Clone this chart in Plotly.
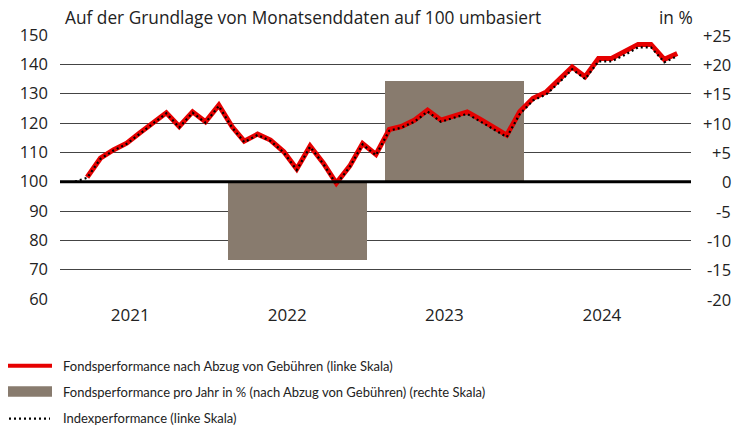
import plotly.graph_objects as go
import pandas as pd

# ---------------- data ----------------
months = pd.date_range("2021-01-31", periods=47, freq="ME")

fund = [None,
        101.5, 108.0, 110.8, 113.1, 116.6, 120.0, 123.5, 118.8, 123.8, 120.4, 126.1,
        118.7, 113.8, 116.2, 114.2, 110.2, 104.3, 112.2, 106.3, 99.5, 105.3, 113.0, 109.3,
        117.8, 118.8, 121.0, 124.4, 121.0, 122.4, 123.8, 121.2, 118.5, 115.9, 123.8, 128.4,
        130.6, 134.5, 139.1, 135.8, 142.0, 142.0, 144.2, 146.8, 146.8, 141.7, 143.7]

index = [100.0,
         101.3, 107.8, 110.6, 112.9, 116.4, 119.8, 123.3, 118.5, 123.5, 120.1, 125.8,
         118.4, 113.5, 115.9, 113.9, 109.9, 104.0, 111.9, 106.0, 99.1, 105.0, 112.7, 109.0,
         117.4, 118.4, 120.5, 123.9, 120.4, 121.8, 123.1, 120.5, 117.8, 115.2, 123.0, 127.7,
         129.8, 133.7, 138.3, 135.0, 141.0, 141.0, 143.2, 145.8, 145.8, 140.7, 142.8]

bar_years = ["2022-07-02", "2023-07-02"]
bar_values = [-13.4, 17.2]

year_tick_dates = ["2021-06-08", "2022-06-08", "2023-06-08", "2024-06-08"]
year_tick_labels = ["2021", "2022", "2023", "2024"]

left_ticks = [60, 70, 80, 90, 100, 110, 120, 130, 140, 150]
right_ticks = [-20, -15, -10, -5, 0, 5, 10, 15, 20, 25]
right_tick_labels = ["-20", "-15", "-10", "-5", "0", "+5", "+10", "+15", "+20", "+25"]

title_text = "Auf der Grundlage von Monatsenddaten auf 100 umbasiert"
unit_text = "in %"
legend_texts = ["Fondsperformance nach Abzug von Gebühren (linke Skala)",
                "Fondsperformance pro Jahr in % (nach Abzug von Gebühren) (rechte Skala)",
                "Indexperformance (linke Skala)"]

# ---------------- style ----------------
RED = "#e60000"
BAR = "#887b6e"
GRID = "#444444"
TXT = "#222222"
FONT = "Open Sans, Noto Sans, sans-serif"
LFONT = "Lato, Roboto, sans-serif"

W, H = 744, 428
PL, PR, PT, PB = 60, 691, 34.5, 299.4


def px(x):
    return (x - PL) / (PR - PL)


def py(y):
    return (PB - y) / (PB - PT)


BAR_WIDTH_MS = 323 * 24 * 3600 * 1000

fig = go.Figure()

fig.add_trace(go.Bar(x=bar_years, y=bar_values, width=[BAR_WIDTH_MS] * len(bar_values),
                     marker=dict(color=BAR, line=dict(width=0)), yaxis="y",
                     showlegend=False, hoverinfo="skip"))

fig.add_trace(go.Scatter(x=months, y=fund, mode="lines", yaxis="y2",
                         line=dict(color=RED, width=5), showlegend=False))
fig.add_trace(go.Scatter(x=months, y=index, mode="lines", yaxis="y2",
                         line=dict(color="black", width=2.2, dash="2px,3px"),
                         showlegend=False))

fig.update_layout(
    width=W, height=H, autosize=False,
    margin=dict(l=PL, r=W - PR, t=PT, b=H - PB, pad=0),
    paper_bgcolor="white", plot_bgcolor="white",
    font=dict(family=FONT, size=16.5, color=TXT),
    bargap=0,
    xaxis=dict(type="date", range=["2020-12-27", "2025-01-01"],
               tickmode="array", tickvals=year_tick_dates, ticktext=year_tick_labels,
               showgrid=False, zeroline=False, showline=False, ticks="",
               tickfont=dict(size=17, color=TXT), automargin=False,
               ticklabelstandoff=4),
    yaxis=dict(range=[-20, 25], side="right", showgrid=False, zeroline=False,
               showticklabels=False, ticks="", showline=False, automargin=False),
    yaxis2=dict(range=[60, 150], side="left", overlaying="y",
                tickmode="array", tickvals=left_ticks,
                showgrid=True, gridcolor=GRID, gridwidth=1,
                zeroline=False, showline=False, ticks="",
                tickfont=dict(size=16.5, color=TXT), automargin=False,
                ticklabelstandoff=11),
)

shapes = []
shapes.append(dict(type="line", xref="paper", yref="y", x0=0, x1=1, y0=0, y1=0,
                   line=dict(color="black", width=3), layer="above"))
shapes.append(dict(type="line", xref="paper", yref="paper", x0=px(8), x1=px(52),
                   y0=py(366.5), y1=py(366.5), line=dict(color=RED, width=4)))
shapes.append(dict(type="rect", xref="paper", yref="paper", x0=px(8), x1=px(52),
                   y0=py(387), y1=py(397.5), fillcolor=BAR, line=dict(width=0)))
shapes.append(dict(type="line", xref="paper", yref="paper", x0=px(9), x1=px(50),
                   y0=py(419.5), y1=py(419.5),
                   line=dict(color="black", width=2.2, dash="2px,3px")))

annotations = []
annotations.append(dict(text=title_text, xref="paper", yref="paper", x=px(63), y=py(17),
                        xanchor="left", yanchor="middle", showarrow=False,
                        font=dict(size=17.3, color=TXT, family=FONT)))
annotations.append(dict(text=unit_text, xref="paper", yref="paper", x=px(695), y=py(17),
                        xanchor="right", yanchor="middle", showarrow=False,
                        font=dict(size=17.3, color=TXT, family=FONT)))
for v, t in zip(right_ticks, right_tick_labels):
    annotations.append(dict(text=t, xref="paper", yref="y", x=px(733), y=v,
                            xanchor="right", yanchor="middle", showarrow=False,
                            font=dict(size=16.5, color=TXT, family=FONT)))
for i, t in enumerate(legend_texts):
    annotations.append(dict(text=t, xref="paper", yref="paper", x=px(61),
                            y=py(366.5 + 26 * i), xanchor="left", yanchor="middle",
                            showarrow=False,
                            font=dict(size=13, color=TXT, family=LFONT)))

fig.update_layout(shapes=shapes, annotations=annotations)

fig.write_html("out.html", config={"displayModeBar": False},
               post_script="document.body.style.margin='0px';")
